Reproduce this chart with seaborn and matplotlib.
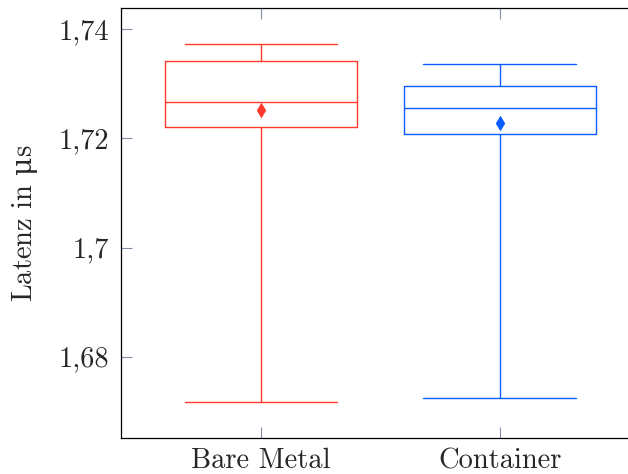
import warnings
warnings.filterwarnings("ignore")
import matplotlib
matplotlib.use("Agg")
import matplotlib.pyplot as plt
import seaborn as sns
import pandas as pd
import numpy as np

# ---- data ----
categories = ["Bare Metal", "Container"]
whisker_low = [1.67162, 1.67236]
quartile_1 = [1.72209, 1.72086]
medians = [1.72662, 1.72552]
quartile_3 = [1.73424, 1.72955]
whisker_high = [1.73731, 1.73358]
means = [1.72521, 1.72277]
colors = ["#ff3b2b", "#0a5cff"]
ytick_values = [1.68, 1.70, 1.72, 1.74]
ytick_labels = ["1,68", "1,7", "1,72", "1,74"]

# five-number summaries as long-form table (quartiles exact with 5 points)
rows = []
for i, c in enumerate(categories):
    for v in (whisker_low[i], quartile_1[i], medians[i], quartile_3[i], whisker_high[i]):
        rows.append({"cat": c, "val": v})
df = pd.DataFrame(rows)
df_mean = pd.DataFrame({"cat": categories, "val": means})

sns.set_style("white")
plt.rcParams["font.family"] = ["cmr10", "DejaVu Serif"]
plt.rcParams["axes.unicode_minus"] = False
plt.rcParams["mathtext.fontset"] = "custom"
plt.rcParams["mathtext.it"] = "DejaVu Serif"
plt.rcParams["mathtext.rm"] = "DejaVu Serif"

fig = plt.figure(figsize=(6.28, 4.74), dpi=100)
ax = fig.add_axes([121 / 628, 1 - 438.3 / 474, 1 - 121 / 628, (438.3 - 7.5) / 474])

pal = dict(zip(categories, colors))
sns.boxplot(data=df, x="cat", y="val", hue="cat", palette=pal, fill=False,
            whis=(0, 100), width=0.8, linewidth=1.0, legend=False, ax=ax,
            showfliers=False)

# widen whisker caps to 0.8 of the box width (pgfplots style)
cap_half = 0.32
for ln in list(ax.get_lines()):
    xd = np.asarray(ln.get_xdata(), dtype=float)
    yd = np.asarray(ln.get_ydata(), dtype=float)
    if len(xd) == 2 and np.isclose(yd[0], yd[1]):
        w = abs(xd[1] - xd[0])
        if 0.01 < w < 0.7:
            cx = (xd[0] + xd[1]) / 2
            ln.set_xdata([cx - cap_half, cx + cap_half])

sns.stripplot(data=df_mean, x="cat", y="val", hue="cat", palette=pal,
              jitter=False, marker="d", size=8, linewidth=0, legend=False,
              ax=ax, zorder=5)

ax.set_xlim(-0.586, 1.536)
ax.set_ylim(1.66502, 1.74400)
ax.set_yticks(ytick_values)
ax.set_yticklabels(ytick_labels)
ax.set_xticks([0, 1])
ax.set_xticklabels(categories)
ax.set_xlabel("")
ax.set_ylabel(r"Latenz in $\mu$s", fontsize=20.5)
ax.yaxis.set_label_coords(-0.160, 0.5)

for s in ["left", "bottom", "top"]:
    ax.spines[s].set_visible(True)
    ax.spines[s].set_color("black")
    ax.spines[s].set_linewidth(0.9)
ax.spines["right"].set_visible(False)

ax.tick_params(axis="both", which="major", direction="in", length=7.9,
               width=0.8, color="#8090a8", labelsize=20.5, pad=8.4,
               top=True, bottom=True, left=True, right=False)
ax.tick_params(axis="x", pad=7)

fig.savefig("out.png", dpi=100)
